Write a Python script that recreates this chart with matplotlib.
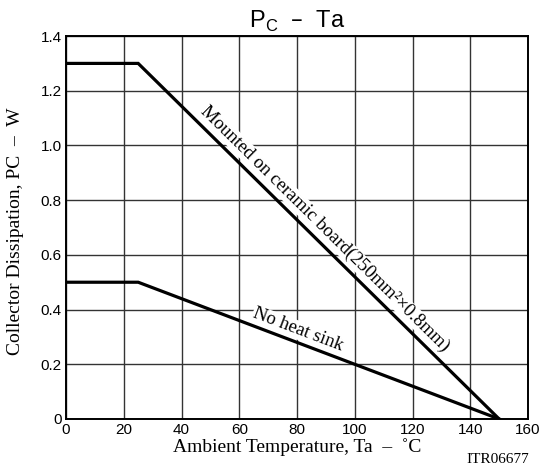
import matplotlib
matplotlib.use("Agg")
import matplotlib.pyplot as plt
import numpy as np

# derating curves
ta_points = [0, 25, 150]
pc_ceramic = [1.3, 1.3, 0.0]
pc_no_sink = [0.5, 0.5, 0.0]

x_ticks = [0, 20, 40, 60, 80, 100, 120, 140, 160]
y_ticks = [0, 0.2, 0.4, 0.6, 0.8, 1.0, 1.2, 1.4]
y_tick_labels = ['0', '0.2', '0.4', '0.6', '0.8', '1.0', '1.2', '1.4']

sans = 'Liberation Sans'
serif = 'Liberation Serif'

fig = plt.figure(figsize=(5.5, 4.67), dpi=100)
ax = fig.add_axes([0.12, 0.1028, 0.84, 0.82])

ax.plot(ta_points, pc_ceramic, color='black', lw=2.3, zorder=4, solid_joinstyle='miter')
ax.plot(ta_points, pc_no_sink, color='black', lw=2.3, zorder=4, solid_joinstyle='miter')

ax.set_xlim(0, 160)
ax.set_ylim(0, 1.4)
ax.set_xticks(x_ticks)
ax.set_yticks(y_ticks)
ax.set_yticklabels(y_tick_labels)
ax.tick_params(length=0, pad=3, labelsize=11)
for lab in ax.get_xticklabels() + ax.get_yticklabels():
    lab.set_fontfamily(sans)

ax.set_axisbelow(True)
ax.grid(True, color='#333333', lw=1.0)
for sp in ax.spines.values():
    sp.set_linewidth(1.4)

ax.set_xlabel('Ambient Temperature, Ta  \u2013  \u02daC', fontfamily=serif, fontsize=14, labelpad=1)
ax.set_ylabel('Collector Dissipation, PC  \u2013  W', fontfamily=serif, fontsize=14)
ax.yaxis.set_label_coords(-0.09, 0.49)

fig.text(0.5405, 0.94, 'P$_{\\mathregular{C}}$  \u2013  Ta',
         ha='center', va='baseline', fontfamily=sans, fontsize=17)
fig.text(0.963, 0.003, 'ITR06677', ha='right', va='bottom', fontfamily=serif, fontsize=11)


def slope_angle(xs, ys):
    p = ax.transData.transform(np.column_stack([xs[1:], ys[1:]]))
    return np.degrees(np.arctan2(p[1, 1] - p[0, 1], p[1, 0] - p[0, 0]))


box = dict(facecolor='white', edgecolor='none', pad=0.5)
ax.text(89.6, 0.695, 'Mounted on ceramic board(250mm\u00b2\u00d70.8mm)',
        rotation=slope_angle(ta_points, pc_ceramic), rotation_mode='anchor',
        ha='center', va='center', fontfamily=serif, fontsize=13.5, bbox=box, zorder=3)
ax.text(80.3, 0.325, 'No heat sink',
        rotation=slope_angle(ta_points, pc_no_sink), rotation_mode='anchor',
        ha='center', va='center', fontfamily=serif, fontsize=13.5, bbox=box, zorder=3)

fig.savefig('out.png', dpi=100)
